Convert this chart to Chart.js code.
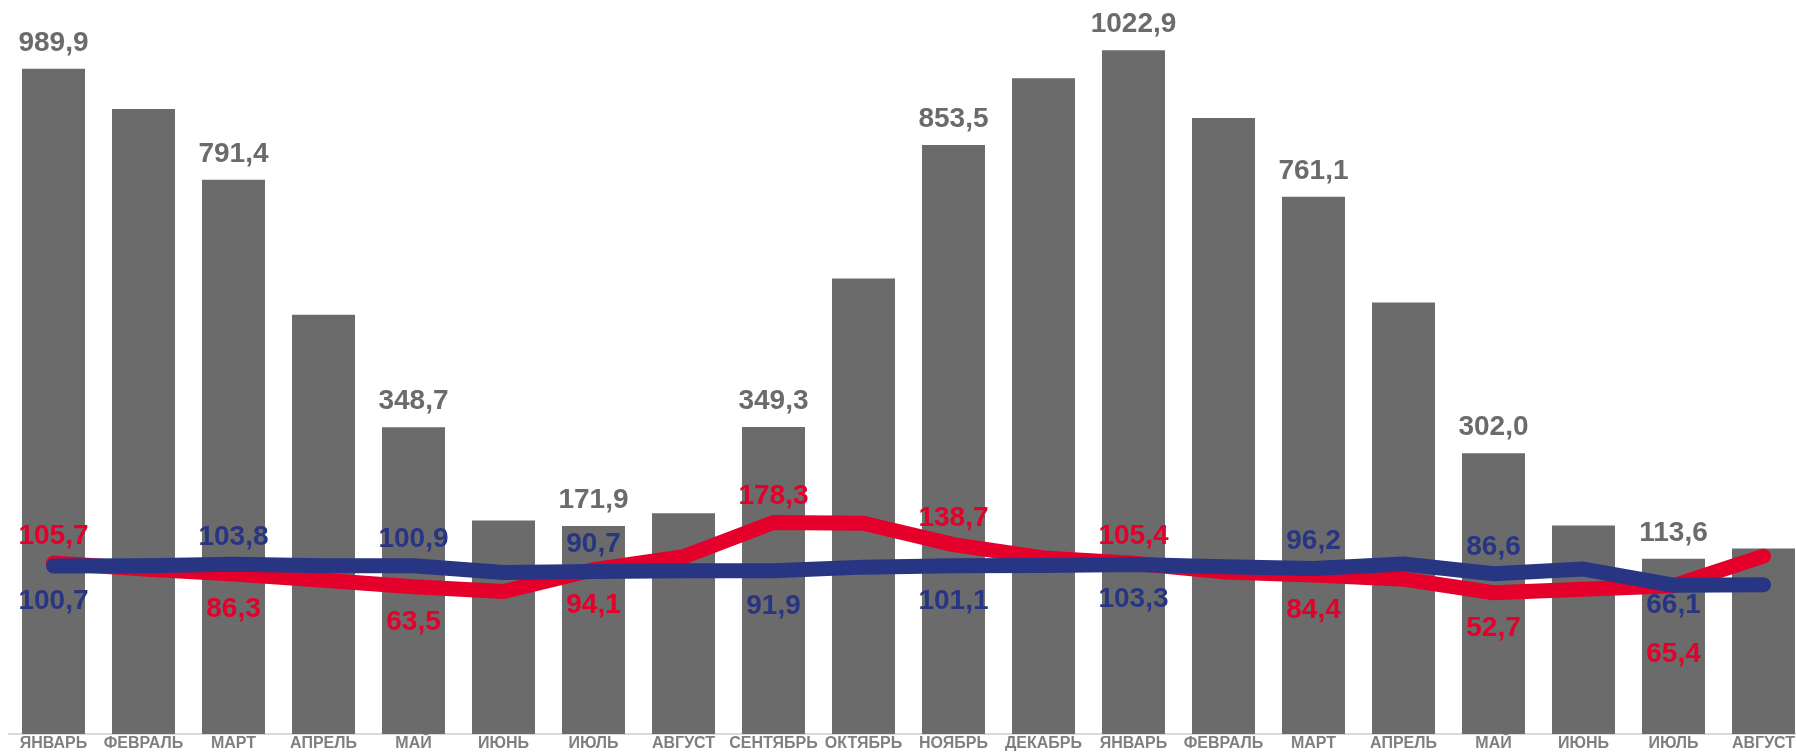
<!DOCTYPE html>
<html lang="ru">
<head>
<meta charset="utf-8">
<title>Chart</title>
<script src="https://cdn.jsdelivr.net/npm/chart.js@4.4.1/dist/chart.umd.min.js"></script>
<style>
    html, body { margin: 0; padding: 0; background: #ffffff; overflow: hidden; }
    #wrap { position: relative; width: 1810px; height: 753px; }
</style>
</head>
<body>
<div id="wrap"><canvas id="chart"></canvas></div>
<script>
// ── данные ──────────────────────────────────────────────────
const months = ['ЯНВАРЬ', 'ФЕВРАЛЬ', 'МАРТ', 'АПРЕЛЬ', 'МАЙ', 'ИЮНЬ', 'ИЮЛЬ', 'АВГУСТ',
    'СЕНТЯБРЬ', 'ОКТЯБРЬ', 'НОЯБРЬ', 'ДЕКАБРЬ', 'ЯНВАРЬ', 'ФЕВРАЛЬ', 'МАРТ', 'АПРЕЛЬ',
    'МАЙ', 'ИЮНЬ', 'ИЮЛЬ', 'АВГУСТ'];

const barValues  = [989.9, 918, 791.4, 550, 348.7, 182, 171.9, 195, 349.3, 615,
                    853.5, 973, 1022.9, 902, 761.1, 572, 302.0, 173, 113.6, 132];
const redValues  = [105.7, 95, 86.3, 75, 63.5, 55, 94.1, 117, 178.3, 177,
                    138.7, 115, 105.4, 90, 84.4, 77, 52.7, 59, 65.4, 118];
const blueValues = [100.7, 101, 103.8, 101, 100.9, 89, 90.7, 92, 91.9, 98.5,
                    101.1, 101.5, 103.3, 99, 96.2, 104, 86.6, 95, 66.1, 67];

// нижняя граница шкалы (столбцы идут от неё)
const axisMin = -200;
const axisMax = 1113;

// смещение подписей линий по вертикали (для подписанных точек)
const redLabelDy  = [-19, 43, 43, 43, -19, -19, -19, 43, 43, 76];
const blueLabelDy = [43, -19, -19, -19, 43, 43, 43, -19, -19, 28];

const GRAY = '#6b6b6b';
const RED  = '#e4002b';
const BLUE = '#283583';
const FONT = '"Liberation Sans", Arial, sans-serif';

const fmt = v => v.toFixed(1).replace('.', ',');

// ── подписи значений ────────────────────────────────────────
const valueLabels = {
    id: 'valueLabels',
    afterDatasetsDraw(chart) {
        const ctx = chart.ctx;
        ctx.save();
        ctx.font = `bold 28px ${FONT}`;
        ctx.textAlign = 'center';
        ctx.textBaseline = 'alphabetic';

        chart.getDatasetMeta(0).data.forEach((bar, i) => {
            if (i % 2) return;
            ctx.fillStyle = GRAY;
            ctx.fillText(fmt(barValues[i]), bar.x, bar.y - 18);
        });

        const drawLine = (meta, values, dys, color) => {
            meta.data.forEach((pt, i) => {
                if (i % 2) return;
                ctx.fillStyle = color;
                ctx.fillText(fmt(values[i]), pt.x, pt.y + dys[i / 2]);
            });
        };
        drawLine(chart.getDatasetMeta(1), redValues, redLabelDy, RED);
        drawLine(chart.getDatasetMeta(2), blueValues, blueLabelDy, BLUE);
        ctx.restore();
    }
};

new Chart(document.getElementById('chart'), {
    type: 'bar',
    data: {
        labels: months,
        datasets: [
            {
                type: 'bar',
                data: barValues,
                base: axisMin,
                backgroundColor: GRAY,
                barPercentage: 0.7,
                categoryPercentage: 1.0,
                order: 3,
            },
            {
                type: 'line',
                data: redValues,
                borderColor: RED,
                borderWidth: 15,
                pointRadius: 0,
                tension: 0,
                borderCapStyle: 'round',
                borderJoinStyle: 'round',
                order: 2,
            },
            {
                type: 'line',
                data: blueValues,
                borderColor: BLUE,
                borderWidth: 15,
                pointRadius: 0,
                tension: 0,
                borderCapStyle: 'round',
                borderJoinStyle: 'round',
                order: 1,
            },
        ],
    },
    options: {
        responsive: true, maintainAspectRatio: false,
        animation: false,
        layout: { padding: { left: 8.5, right: 1.5, top: 0, bottom: 0 } },
        plugins: { legend: { display: false }, tooltip: { enabled: false } },
        scales: {
            x: {
                grid: { display: false, drawTicks: false },
                border: { display: true, color: '#d9d9d9', width: 2 },
                ticks: {
                    color: '#7f7f7f', font: { family: FONT, size: 16, weight: 'bold' },
                    padding: 0, maxRotation: 0, autoSkip: false,
                },
                afterFit: scale => { scale.height = 19; },
            },
            y: { display: false, min: axisMin, max: axisMax },
        },
    },
    plugins: [valueLabels],
});
</script>
</body>
</html>
